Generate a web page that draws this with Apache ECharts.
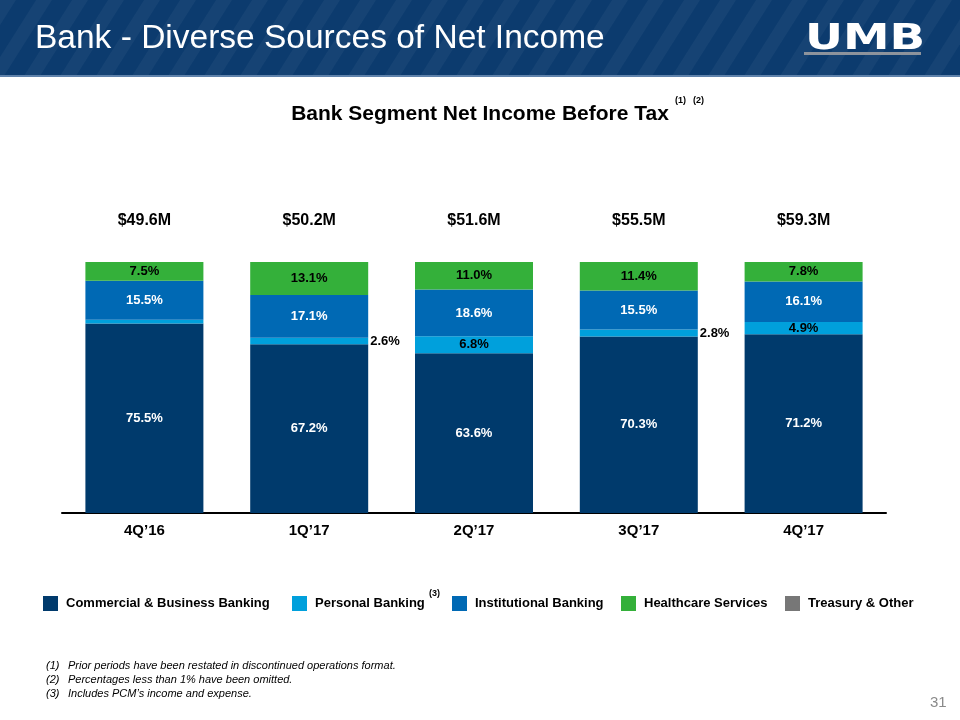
<!DOCTYPE html>
<html><head><meta charset="utf-8">
<script src="https://cdn.jsdelivr.net/npm/echarts/dist/echarts.min.js"></script>
<style>html,body{margin:0;padding:0;background:#fff}#c{width:960px;height:720px}</style>
</head><body><div id="c"></div><script>
// ---- data ----
const categories = ['4Q’16', '1Q’17', '2Q’17', '3Q’17', '4Q’17'];
const totals = ['$49.6M', '$50.2M', '$51.6M', '$55.5M', '$59.3M'];
const commercial = [75.5, 67.2, 63.6, 70.3, 71.2];
const personal = [1.5, 2.6, 6.8, 2.8, 4.9];
const institutional = [15.5, 17.1, 18.6, 15.5, 16.1];
const healthcare = [7.5, 13.1, 11.0, 11.4, 7.8];
const treasury = [0, 0, 0, 0, 0];
const personalLabelPos = ['none', 'right', 'inside', 'right', 'inside'];
const seriesNames = ['Commercial & Business Banking', 'Personal Banking', 'Institutional Banking', 'Healthcare Services', 'Treasury & Other'];
const footnoteNums = ['(1)', '(2)', '(3)'];
const footnotes = ['Prior periods have been restated in discontinued operations format.', 'Percentages less than 1% have been omitted.', 'Includes PCM’s income and expense.'];

const colors = ['#003a6c', '#00a0dc', '#0069b4', '#34b03a', '#777777'];
const FONT = '"Liberation Sans", Arial, sans-serif';
const pct = p => p.value.toFixed(1) + '%';

const chart = echarts.init(document.getElementById('c'), null, {renderer: 'canvas'});

function mkSeries(name, data, idx, labelColor) {
  return {
    name: name, type: 'bar', stack: 'all', barWidth: 118,
    itemStyle: {color: colors[idx]},
    label: {show: true, position: 'inside', formatter: pct, color: labelColor,
      fontFamily: FONT, fontWeight: 'bold', fontSize: 13},
    data: data.slice(), emphasis: {disabled: true}
  };
}

const personalData = personal.map((v, i) => {
  const pos = personalLabelPos[i];
  if (pos === 'none') return {value: v, label: {show: false}};
  return {value: v, label: {show: true, position: pos, distance: 2, color: '#000'}};
});

// header graphics (decoration)
const gfx = [];
gfx.push({type: 'rect', shape: {x: 0, y: 0, width: 960, height: 76}, style: {fill: '#0c3b6e'}, silent: true});
for (let x = -120; x < 1000; x += 36) {
  gfx.push({type: 'polygon', silent: true,
    shape: {points: [[x, 76], [x + 16, 76], [x + 16 + 48, 0], [x + 48, 0]]},
    style: {fill: 'rgba(255,255,255,0.045)'}});
}
gfx.push({type: 'rect', shape: {x: 0, y: 75, width: 960, height: 2}, style: {fill: '#5f82ab'}, silent: true});
gfx.push({type: 'text', x: 35, y: 22, style: {text: 'Bank - Diverse Sources of Net Income', fill: '#fff', font: '33.5px ' + FONT}});
gfx.push({type: 'text', x: 805, y: 22, scaleX: 1.3, style: {text: 'UMB', fill: '#fff', font: 'bold 36px "DejaVu Sans", ' + FONT}});
gfx.push({type: 'rect', shape: {x: 804, y: 52, width: 117, height: 3}, style: {fill: '#8d939c'}, silent: true});
// title superscripts
gfx.push({type: 'text', x: 675, y: 96, style: {text: '(1)', fill: '#000', font: 'bold 9px ' + FONT}});
gfx.push({type: 'text', x: 693, y: 96, style: {text: '(2)', fill: '#000', font: 'bold 9px ' + FONT}});
// legend superscript
gfx.push({type: 'text', x: 429, y: 589, style: {text: '(3)', fill: '#000', font: 'bold 9px ' + FONT}});
// footnotes
footnotes.forEach((t, i) => {
  gfx.push({type: 'text', x: 46, y: 660 + i * 14, style: {text: footnoteNums[i], fill: '#000', font: 'italic 11px ' + FONT}});
  gfx.push({type: 'text', x: 68, y: 660 + i * 14, style: {text: t, fill: '#000', font: 'italic 11px ' + FONT}});
});
gfx.push({type: 'text', x: 930, y: 695, style: {text: '31', fill: '#8a8a8a', font: '15px ' + FONT}});

const legendLefts = [43, 292, 452, 621, 785];
const legends = seriesNames.map((n, i) => ({
  data: [n], left: legendLefts[i], top: 596, icon: 'rect', itemWidth: 15, itemHeight: 15,
  selectedMode: false, itemGap: 0, padding: 0,
  textStyle: {fontFamily: FONT, fontWeight: 'bold', fontSize: 13, color: '#000', padding: [0, 0, 0, 3]}
}));

chart.setOption({
  animation: false,
  backgroundColor: '#fff',
  title: {text: 'Bank Segment Net Income Before Tax', left: 'center', top: 99,
    textStyle: {fontFamily: FONT, fontWeight: 'bold', fontSize: 21, color: '#000'}},
  legend: legends,
  grid: {left: 62, right: 74, top: 262, bottom: 207},
  xAxis: [
    {type: 'category', data: categories, position: 'bottom',
      axisLine: {lineStyle: {color: '#000', width: 2}}, axisTick: {show: false},
      axisLabel: {fontFamily: FONT, fontWeight: 'bold', fontSize: 15, color: '#000', margin: 10}},
    {type: 'category', data: totals, position: 'top',
      axisLine: {show: false}, axisTick: {show: false},
      axisLabel: {fontFamily: FONT, fontWeight: 'bold', fontSize: 16, color: '#000', margin: 33}}
  ],
  yAxis: {type: 'value', min: 0, max: 100, show: false, splitLine: {show: false}},
  series: [
    mkSeries(seriesNames[0], commercial, 0, '#fff'),
    Object.assign(mkSeries(seriesNames[1], [], 1, '#000'), {data: personalData}),
    mkSeries(seriesNames[2], institutional, 2, '#fff'),
    mkSeries(seriesNames[3], healthcare, 3, '#000'),
    Object.assign(mkSeries(seriesNames[4], treasury, 4, '#000'), {label: {show: false}})
  ],
  graphic: gfx
});
</script></body></html>
